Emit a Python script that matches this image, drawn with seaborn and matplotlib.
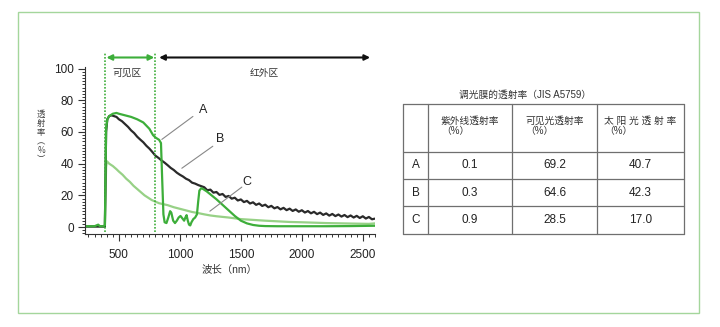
import matplotlib
matplotlib.use("Agg")
import matplotlib.pyplot as plt
from matplotlib.patches import Rectangle
from matplotlib.ticker import MultipleLocator
import pandas as pd
import seaborn as sns

# ---- spectral transmittance of three dimming films (wavelength nm, transmittance %) ----
wl_a = [230, 300, 330, 345, 370, 385, 390, 395, 405, 420, 450, 480, 500, 550, 600, 650,
        700, 750, 780, 800, 830, 845, 855, 865, 875, 890, 905, 920, 930, 945, 960, 975,
        990, 1005, 1020, 1035, 1045, 1055, 1065, 1075, 1085, 1095, 1110, 1125, 1140, 1150,
        1160, 1175, 1190, 1220, 1260, 1300, 1350, 1400, 1450, 1500, 1550, 1600, 1650, 1700,
        1800, 1900, 2000, 2200, 2400, 2600]
t_a = [0.5, 0.5, 1.5, 0.5, 0.5, 1.0, 30, 62, 68, 70, 71.5, 72, 71.5, 70.5, 69.5, 68,
       66, 62, 58, 56.5, 55, 53, 30, 8, 3, 2.5, 6, 10, 9, 4, 2.5, 4,
       6, 7, 5.5, 4, 6, 7.5, 4, 1.5, 1, 3, 5, 6, 8, 16,
       23, 24.5, 24, 22.5, 20, 17.5, 14, 10.5, 7, 4, 2.3, 1.3, 0.8, 0.6,
       0.5, 0.5, 0.5, 0.5, 0.6, 0.8]

wl_b = [230, 385, 390, 395, 405, 420, 440, 460, 480, 500, 525, 550, 575, 600, 625, 650,
        675, 700, 725, 750, 775, 800, 825, 850, 875, 900, 925, 950, 975, 1000, 1025, 1050,
        1075, 1100, 1125, 1150, 1175,
        1200, 1225, 1250, 1275, 1300, 1325, 1350, 1375, 1400, 1425, 1450, 1475, 1500, 1525,
        1550, 1575, 1600, 1625, 1650, 1675, 1700, 1725, 1750, 1775, 1800, 1825, 1850, 1875,
        1900, 1925, 1950, 1975, 2000, 2025, 2050, 2075, 2100, 2125, 2150, 2175, 2200, 2225,
        2250, 2275, 2300, 2325, 2350, 2375, 2400, 2425, 2450, 2475, 2500, 2525, 2550, 2575,
        2600]
t_b = [0.3, 0.3, 30, 60, 68, 70, 70.5, 70, 69.5, 68, 66.8, 65, 63.2, 61, 59.3, 57,
       55.2, 53.5, 51.3, 49.5, 47.3, 45, 43.6, 42, 40.6, 39, 37.3, 36, 34.3, 33, 31.9, 30.5,
       29.6, 28, 27.4, 26.5, 25.8,
       25.1, 23.2, 23.6, 21.7, 22.1, 20.3, 20.85, 19.0, 19.6, 17.9, 18.5, 16.75, 17.4, 15.75,
       16.5, 14.85, 15.6, 14.0, 14.85, 13.3, 14.1, 12.5, 13.35, 11.8, 12.6, 11.15, 12.1, 10.65,
       11.6, 10.15, 11.1, 9.65, 10.6, 9.15, 10.1, 8.65, 9.6, 8.15, 9.1, 7.65, 8.6, 7.2,
       8.25, 6.9, 7.9, 6.6, 7.6, 6.25, 7.3, 6.0, 7.05, 5.7, 6.8, 5.35, 6.35, 4.9,
       5.3]

wl_c = [230, 385, 390, 395, 402, 420, 450, 480, 500, 530, 560, 590, 620, 650, 680, 710,
        740, 770, 800, 830, 860, 900, 950, 1000, 1050, 1100, 1150, 1200, 1250, 1300, 1400,
        1500, 1600, 1700, 1800, 1900, 2000, 2200, 2400, 2550, 2600]
t_c = [0.5, 0.5, 20, 38, 41.5, 40, 38.5, 36.5, 35, 33, 30.5, 28.5, 26, 24, 22, 20,
       18.5, 17, 16, 15, 14.5, 13.8, 12.5, 11.5, 10.5, 9.5, 8.8, 8, 7.3, 6.8, 6,
       5, 4.5, 4, 3.6, 3.2, 3, 2.5, 2.2, 2.0, 2.3]

film_names = ["C", "B", "A"]
film_colors = {"A": "#3dae3a", "B": "#2a2a2a", "C": "#97d186"}

# visible-range boundaries (nm)
vis_lo, vis_hi = 390, 800

# ---- JIS A5759 table ----
row_labels = ["A", "B", "C"]
uv_trans = ["0.1", "0.3", "0.9"]
vis_trans = ["69.2", "64.6", "28.5"]
solar_trans = ["40.7", "42.3", "17.0"]
col_headers = ["紫外线透射率\n（%）", "可见光透射率\n（%）", "太 阳 光 透 射 率\n（%）"]
table_title = "调光膜的透射率（JIS A5759）"

df = pd.concat([
    pd.DataFrame({"wl": wl_a, "T": t_a, "film": "A"}),
    pd.DataFrame({"wl": wl_b, "T": t_b, "film": "B"}),
    pd.DataFrame({"wl": wl_c, "T": t_c, "film": "C"}),
], ignore_index=True)

sns.set_theme(style="ticks")
plt.rcParams["font.family"] = ["Liberation Sans", "Noto Sans CJK SC", "DejaVu Sans"]

W, H = 720, 327
fig = plt.figure(figsize=(W / 100, H / 100), dpi=100)

# pixel-space overlay for frame and table
ov = fig.add_axes([0, 0, 1, 1])
ov.set_xlim(0, W)
ov.set_ylim(H, 0)
ov.axis("off")
ov.add_patch(Rectangle((18, 12), 681, 301, fill=False, ec="#a4d69c", lw=1.0))

# ---- spectrum chart ----
ax = fig.add_axes([85 / W, 1 - 234 / H, 290 / W, 167 / H])
ax.patch.set_alpha(0)
sns.lineplot(data=df, x="wl", y="T", hue="film", hue_order=film_names,
             palette=film_colors, estimator=None, sort=False, linewidth=1.6,
             legend=False, ax=ax)
for ln in ax.get_lines():
    ln.set_solid_joinstyle("round")

ax.set_xlim(222, 2600)
ax.set_ylim(-4.4, 101)
ax.set_xticks([500, 1000, 1500, 2000, 2500])
ax.set_yticks([0, 20, 40, 60, 80, 100])
ax.xaxis.set_minor_locator(MultipleLocator(50))
ax.yaxis.set_minor_locator(MultipleLocator(2))
ax.tick_params(axis="both", which="major", length=5, width=0.8, color="#333333",
               labelsize=8.5, labelcolor="#222222", pad=3)
ax.tick_params(axis="both", which="minor", length=2.5, width=0.7, color="#333333")
ax.tick_params(axis="x", which="major", pad=6)
for s in ("top", "right"):
    ax.spines[s].set_visible(False)
for s in ("left", "bottom"):
    ax.spines[s].set_linewidth(0.8)
    ax.spines[s].set_color("#333333")
ax.set_xlabel("波长（nm）", fontsize=7.5, color="#333333", labelpad=3)
ax.set_ylabel("")
fig.text(41 / W, 1 - 137 / H, "透\n射\n率\n︵\n%\n︶", ha="center", va="center",
         fontsize=6, linespacing=1.0, color="#444444",
         family=["Noto Sans CJK SC", "DejaVu Sans"])

# visible-range dotted boundaries
for xv in (vis_lo, vis_hi):
    ax.plot([xv, xv], [-3, 110], ls=(0, (1, 1)), color="#3dae3a", lw=1.2, clip_on=False)

# region arrows and labels
ax.annotate("", xy=(vis_hi - 10, 107), xytext=(vis_lo + 8, 107),
            arrowprops=dict(arrowstyle="<|-|>", color="#3dae3a", lw=1.5,
                            mutation_scale=8, shrinkA=0, shrinkB=0),
            annotation_clip=False)
ax.annotate("", xy=(2560, 107), xytext=(830, 107),
            arrowprops=dict(arrowstyle="<|-|>", color="#111111", lw=1.5,
                            mutation_scale=8, shrinkA=0, shrinkB=0),
            annotation_clip=False)
ax.text(570, 97.5, "可见区", ha="center", va="center", fontsize=7, color="#333333")
ax.text(1690, 97.5, "红外区", ha="center", va="center", fontsize=7, color="#333333")

# curve callouts
callouts = [("A", (852, 55.3), (1107, 69.8), (1189, 74)),
            ("B", (1016, 37.1), (1270, 51), (1328, 55.5)),
            ("C", (1246, 10), (1508, 25.2), (1549, 28.5))]
for name, p0, p1, ptxt in callouts:
    ax.plot([p0[0], p1[0]], [p0[1], p1[1]], color="#888888", lw=0.8)
    ax.text(ptxt[0], ptxt[1], name, ha="center", va="center", fontsize=9, color="#222222")

# ---- table drawn in pixel space ----
tx0, tx1 = 403, 684
col_x = [403, 428, 512, 597, 684]
row_y = [104, 152, 179, 206, 234]
lc = "#6f6f6f"
for x in col_x:
    ov.plot([x, x], [row_y[0], row_y[-1]], color=lc, lw=0.9)
for y in row_y:
    ov.plot([tx0, tx1], [y, y], color=lc, lw=0.9)
ov.text(525, 95, table_title, ha="center", va="center", fontsize=7, color="#333333")
for j, hdr in enumerate(col_headers):
    cx = (col_x[j + 1] + col_x[j + 2]) / 2
    ov.text(cx, 126, hdr, ha="center", va="center", multialignment="left",
            fontsize=7, linespacing=1.0, color="#333333")
for i, name in enumerate(row_labels):
    cy = (row_y[i + 1] + row_y[i + 2]) / 2
    ov.text((col_x[0] + col_x[1]) / 2, cy, name, ha="center", va="center",
            fontsize=8.5, color="#222222")
    for j, val in enumerate((uv_trans[i], vis_trans[i], solar_trans[i])):
        cx = (col_x[j + 1] + col_x[j + 2]) / 2
        ov.text(cx, cy, val, ha="center", va="center", fontsize=8.5, color="#222222")

fig.savefig("out.png", dpi=100)
